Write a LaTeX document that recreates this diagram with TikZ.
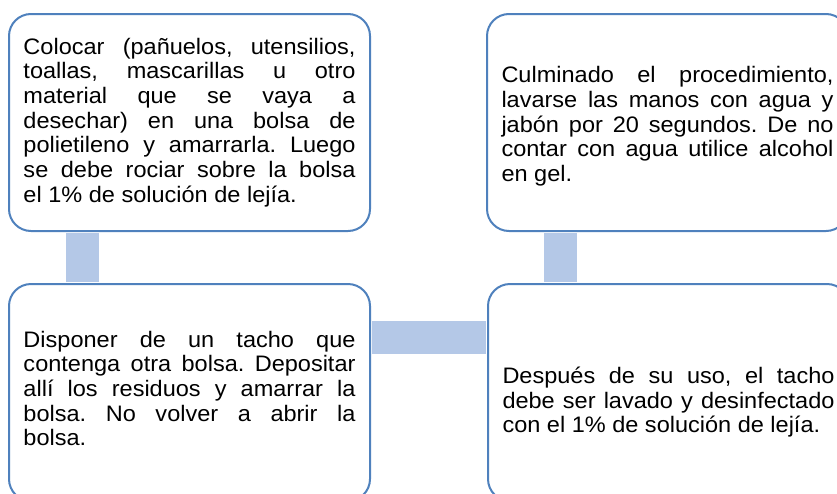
\documentclass[tikz,border=0pt]{standalone}
\usepackage{fontspec}
\setmainfont[FakeStretch=1.05]{Liberation Sans}
\usepackage{xcolor}
\definecolor{boxline}{RGB}{79,129,189}
\definecolor{barfill}{RGB}{180,200,231}
\tolerance=10000
\hyphenpenalty=10000
\frenchspacing

\tikzset{
  box/.style={draw=boxline, line width=1.5pt, rounded corners=16.5pt, fill=white,
    minimum width=270.75pt, minimum height=162.75pt, text width=249pt, align=justify,
    font=\fontsize{16.8}{18.5}\selectfont},
  bar/.style={draw=barfill, line width=24.75pt, shorten <=0.75pt, shorten >=0.75pt}
}

\begin{document}
\begin{tikzpicture}[x=0.75pt,y=0.75pt,yscale=-1,xscale=1]
\useasboundingbox (0,0) rectangle (837,493);

%Shape: Box top left
\node[box] (colocar) at (189.5,122.5) {Colocar (pañuelos, utensilios,\linebreak toallas, mascarillas u otro\linebreak material que se vaya a\linebreak desechar) en una bolsa de\linebreak polietileno y amarrarla. Luego\linebreak se debe rociar sobre la bolsa\linebreak el 1\% de solución de lejía.};
%Shape: Box top right
\node[box] (culminado) at (667.5,122.5) {\rule{0pt}{18pt}Culminado el procedimiento,\linebreak lavarse las manos con agua y\linebreak jabón por 20 segundos. De no\linebreak contar con agua utilice alcohol\linebreak en gel.};
%Shape: Box bottom left
\node[box] (disponer) at (189.5,392.5) {Disponer de un tacho que\linebreak contenga otra bolsa. Depositar\linebreak allí los residuos y amarrar la\linebreak bolsa. No volver a abrir la\linebreak bolsa.\rule[-6pt]{0pt}{0pt}};
%Shape: Box bottom right
\node[box] (despues) at (668.5,392.5) {\rule{0pt}{27pt}Después de su uso, el tacho\linebreak debe ser lavado y desinfectado\linebreak con el 1\% de solución de lejía.};

%Bars
\draw[bar] ([xshift=55.9pt]colocar.south west) coordinate (b1) -- (b1 |- disponer.north);
\draw[bar] ([yshift=-40.9pt]disponer.east) coordinate (b2) -- (b2 -| despues.west);
\draw[bar] ([xshift=55.9pt]culminado.south west) coordinate (b3) -- (b3 |- despues.north);

\end{tikzpicture}
\end{document}
